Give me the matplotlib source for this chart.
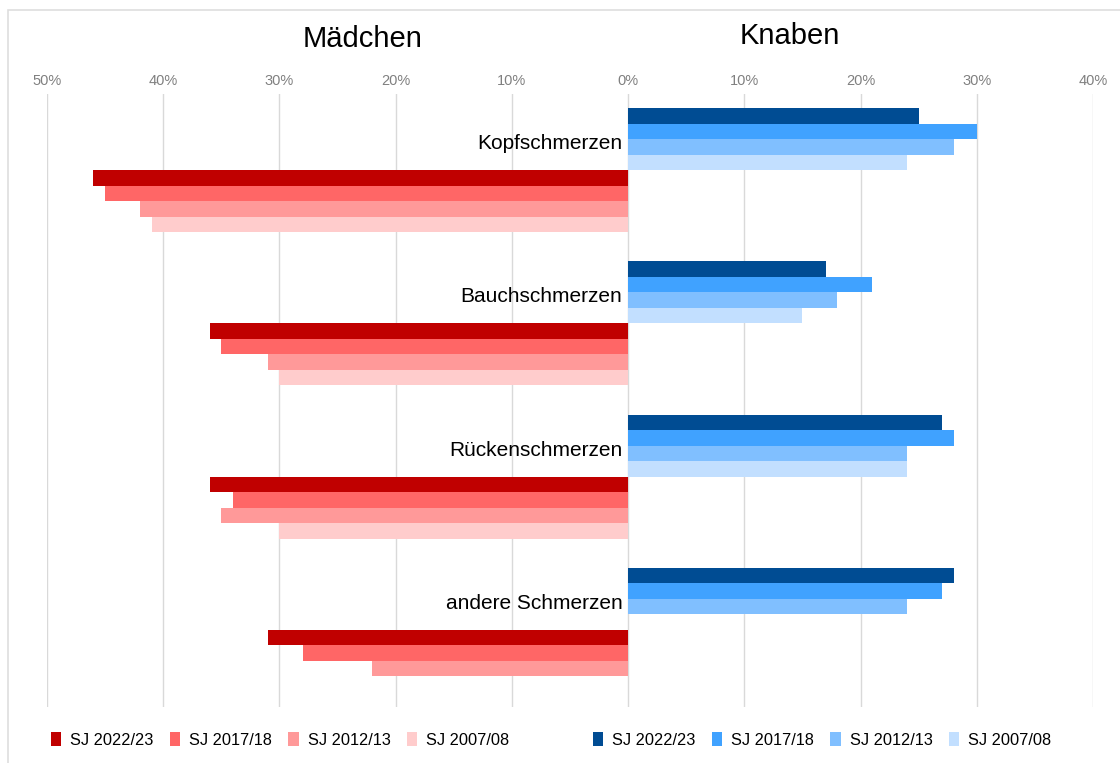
import numpy as np
import matplotlib
matplotlib.use("Agg")
import matplotlib.pyplot as plt
from matplotlib.patches import Rectangle

plt.rcParams['font.family'] = ['Liberation Sans', 'DejaVu Sans']

categories = ["Kopfschmerzen", "Bauchschmerzen", "Rückenschmerzen", "andere Schmerzen"]
years = ["SJ 2022/23", "SJ 2017/18", "SJ 2012/13", "SJ 2007/08"]

# Knaben (boys), one list per school year, values in percent
boys_2022 = [25, 17, 27, 28]
boys_2017 = [30, 21, 28, 27]
boys_2012 = [28, 18, 24, 24]
boys_2007 = [24, 15, 24, np.nan]

# Mädchen (girls)
girls_2022 = [46, 36, 36, 31]
girls_2017 = [45, 35, 34, 28]
girls_2012 = [42, 31, 35, 22]
girls_2007 = [41, 30, 30, np.nan]

boy_colors = ["#004C93", "#40A2FF", "#80BFFF", "#C2DFFF"]
girl_colors = ["#C00000", "#FF6666", "#FF9999", "#FFCCCC"]

boys = [boys_2022, boys_2017, boys_2012, boys_2007]
girls = [girls_2022, girls_2017, girls_2012, girls_2007]

fig = plt.figure(figsize=(11.2, 7.63), dpi=100)
ax = fig.add_axes([47 / 1120, 1 - 706.5 / 763, (1093 - 47) / 1120, 613 / 763])

period = 9.87
base = np.arange(len(categories)) * period

boy_handles = []
girl_handles = []
for j in range(4):
    h = ax.barh(base + j + 0.5, boys[j], height=1.0, color=boy_colors[j], zorder=2)
    boy_handles.append(h)
for j in range(4):
    h = ax.barh(base + 4 + j + 0.5, -np.array(girls[j], dtype=float), height=1.0,
                color=girl_colors[j], zorder=2)
    girl_handles.append(h)

for i, cat in enumerate(categories):
    ax.text(-0.5, base[i] + 2.3, cat, ha='right', va='center', fontsize=15, color='black', zorder=3)

ax.set_xlim(-50, 40)
ax.set_ylim(4 * period - 0.935, -0.935)
ticks = np.arange(-50, 41, 10)
ax.set_xticks(ticks)
ax.set_xticklabels([f"{abs(t)}%" for t in ticks])
ax.xaxis.tick_top()
ax.tick_params(axis='x', length=0, labelsize=10.5, labelcolor='#808080', pad=4)
ax.set_yticks([])
for s in ax.spines.values():
    s.set_visible(False)
ax.grid(axis='x', color='#d9d9d9', linewidth=1.0, zorder=0)
ax.set_axisbelow(True)

fig.text(363 / 1120, 1 - 39 / 763, "Mädchen", ha='center', va='center', fontsize=21)
fig.text(790 / 1120, 1 - 36 / 763, "Knaben", ha='center', va='center', fontsize=21)

leg_kw = dict(ncol=4, frameon=False, fontsize=11.8, handlelength=0.62, handleheight=0.95,
              handletextpad=0.55, columnspacing=1.0, borderaxespad=0, borderpad=0)
leg1 = fig.legend(girl_handles, years, loc='center left',
                  bbox_to_anchor=(51 / 1120, 1 - 740 / 763), **leg_kw)
leg2 = fig.legend(boy_handles, years, loc='center left',
                  bbox_to_anchor=(593 / 1120, 1 - 740 / 763), **leg_kw)

fig.patches.append(Rectangle((8 / 1120, -0.1), 1.2, 1.1 - 10 / 763, transform=fig.transFigure,
                             fill=False, edgecolor='#dedede', linewidth=1.2))

fig.savefig("out.png", dpi=100)
